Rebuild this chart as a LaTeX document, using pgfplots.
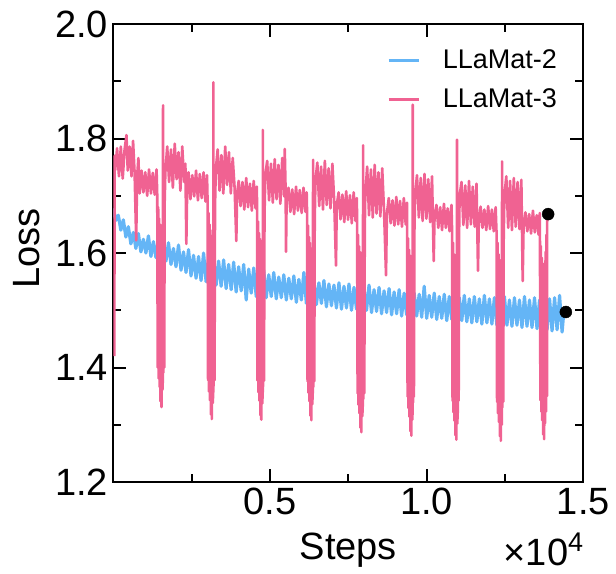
\documentclass[border=0pt]{standalone}
\usepackage{fontspec}
\setmainfont{Liberation Sans}
\usepackage{pgfplots}
\pgfplotsset{compat=1.18}
\definecolor{llblue}{RGB}{100,181,246}
\definecolor{llpink}{RGB}{240,98,146}
\begin{document}
\begin{tikzpicture}
\begin{axis}[
    name=ax,
    scale only axis,
    width=470bp, height=458bp,
    xmin=0, xmax=15000,
    ymin=1.2, ymax=2.0,
    axis line style={line width=2bp},
    tick style={line width=2bp, black},
    tick align=inside,
    major tick length=13bp, minor tick length=8bp,
    xtick={5000,10000,15000}, xticklabels={0.5,1.0,1.5},
    minor xtick={2500,7500,12500},
    ytick={1.2,1.4,1.6,1.8,2.0},
    minor ytick={1.3,1.5,1.7,1.9},
    scaled x ticks=false,
    /pgf/number format/assume math mode=true,
    yticklabel style={/pgf/number format/fixed, /pgf/number format/precision=1,
        /pgf/number format/fixed zerofill, xshift=-5bp},
    tick label style={font=\fontsize{38bp}{40bp}\selectfont, inner sep=0pt},
    xticklabel style={yshift=-6bp},
    xlabel={Steps}, ylabel={Loss},
    label style={font=\fontsize{38bp}{40bp}\selectfont, inner sep=0pt},
    xlabel style={at={(axis description cs:0.5,0)}, anchor=north, yshift=-51bp},
    ylabel style={at={(axis description cs:0,0.51)}, anchor=south, yshift=73bp},
    legend style={draw=none, fill=none, at={(rel axis cs:0.582,0.948)}, anchor=north west,
        font=\fontsize{27bp}{30bp}\selectfont, inner sep=0pt, row sep=14bp, column sep=23bp,
        nodes={inner sep=0pt, text height=20bp, text depth=5bp}},
    legend cell align=left,
    legend image code/.code={\draw[#1, line width=2.8bp] (0bp,0bp) -- (30bp,0bp);},
]
% end-point markers
\addplot[forget plot, only marks, mark=*, mark size=6bp, black] coordinates {(13875,1.668) (14440,1.497)};

% LLaMat-2
\addplot[llblue, line width=3.2bp, line join=round] coordinates {
(0,1.678) (80,1.657) (160,1.666) (240,1.640) (320,1.658) (400,1.628) (480,1.646) (560,1.616) (640,1.636) (720,1.608)
(800,1.634) (880,1.602) (960,1.624) (1040,1.600) (1120,1.630) (1200,1.594) (1280,1.620) (1360,1.592) (1440,1.624) (1520,1.588)
(1600,1.612) (1680,1.586) (1760,1.618) (1840,1.580) (1920,1.608) (2000,1.576) (2080,1.614) (2160,1.570) (2240,1.602) (2320,1.566)
(2400,1.606) (2480,1.560) (2560,1.596) (2640,1.556) (2720,1.594) (2800,1.552) (2880,1.600) (2960,1.550) (3040,1.590) (3120,1.548)
(3200,1.592) (3280,1.544) (3360,1.586) (3440,1.542) (3520,1.588) (3600,1.538) (3680,1.580) (3760,1.536) (3840,1.584) (3920,1.532)
(4000,1.576) (4080,1.534) (4160,1.580) (4240,1.518) (4320,1.572) (4400,1.530) (4480,1.574) (4560,1.524) (4640,1.568) (4720,1.526)
(4800,1.570) (4880,1.522) (4960,1.562) (5040,1.524) (5120,1.566) (5200,1.520) (5280,1.558) (5360,1.522) (5440,1.562) (5520,1.518)
(5600,1.556) (5680,1.520) (5760,1.560) (5840,1.514) (5920,1.554) (6000,1.518) (6080,1.566) (6160,1.512) (6240,1.556) (6320,1.512)
(6400,1.552) (6480,1.510) (6560,1.548) (6640,1.512) (6720,1.552) (6800,1.506) (6880,1.546) (6960,1.508) (7040,1.544) (7120,1.504)
(7200,1.548) (7280,1.502) (7360,1.542) (7440,1.504) (7520,1.546) (7600,1.500) (7680,1.540) (7760,1.502) (7840,1.542) (7920,1.498)
(8000,1.538) (8080,1.500) (8160,1.544) (8240,1.496) (8320,1.536) (8400,1.498) (8480,1.540) (8560,1.494) (8640,1.534) (8720,1.496)
(8800,1.538) (8880,1.492) (8960,1.532) (9040,1.494) (9120,1.536) (9200,1.490) (9280,1.530) (9360,1.492) (9440,1.532) (9520,1.488)
(9600,1.530) (9680,1.490) (9760,1.528) (9840,1.488) (9920,1.542) (10000,1.486) (10080,1.526) (10160,1.488) (10240,1.530) (10320,1.484)
(10400,1.524) (10480,1.486) (10560,1.528) (10640,1.482) (10720,1.524) (10800,1.484) (10880,1.526) (10960,1.480) (11040,1.522) (11120,1.482)
(11200,1.526) (11280,1.480) (11360,1.520) (11440,1.478) (11520,1.524) (11600,1.480) (11680,1.520) (11760,1.476) (11840,1.526) (11920,1.478)
(12000,1.520) (12080,1.476) (12160,1.522) (12240,1.474) (12320,1.518) (12400,1.476) (12480,1.524) (12560,1.474) (12640,1.518) (12720,1.472)
(12800,1.522) (12880,1.474) (12960,1.518) (13040,1.470) (13120,1.524) (13200,1.472) (13280,1.518) (13360,1.470) (13440,1.522) (13520,1.468)
(13600,1.518) (13680,1.470) (13760,1.524) (13840,1.466) (13920,1.520) (14000,1.464) (14080,1.522) (14160,1.466) (14240,1.526) (14320,1.462)
(14380,1.500)
};

% LLaMat-3
\addplot[llpink, line width=2.6bp, line join=round] coordinates {
(30,1.42) (45,1.77)
(60,1.745) (120,1.783) (180,1.734) (240,1.786) (300,1.730) (360,1.781) (420,1.806) (460,1.744) (520,1.786) (580,1.734)
(630,1.796) (680,1.739) (730,1.622) (760,1.734) (800,1.766)
(840,1.704) (900,1.744) (960,1.706) (1020,1.741) (1080,1.700) (1140,1.746) (1200,1.704) (1260,1.740) (1320,1.702) (1380,1.746)
(1402,1.700) (1417,1.400) (1432,1.680) (1447,1.381) (1462,1.660) (1477,1.366) (1492,1.650) (1507,1.341) (1522,1.630) (1537,1.331)
(1552,1.640) (1567,1.361) (1582,1.381) (1587,1.858) (1594,1.391) (1609,1.660) (1624,1.400) (1639,1.690)
(1660,1.740) (1720,1.786) (1780,1.724) (1840,1.781) (1900,1.714) (1960,1.791) (2020,1.729) (2080,1.776) (2140,1.709) (2200,1.786)
(2260,1.724) (2300,1.756) (2330,1.616) (2360,1.724)
(2400,1.741) (2460,1.694) (2520,1.736) (2580,1.699) (2640,1.744) (2700,1.692) (2760,1.738) (2820,1.696) (2880,1.741) (2940,1.690) (2990,1.736)
(3008,1.690) (3023,1.378) (3038,1.670) (3053,1.358) (3068,1.650) (3083,1.343) (3098,1.640) (3113,1.318) (3128,1.620) (3143,1.310)
(3158,1.630) (3173,1.338) (3188,1.358) (3193,1.898) (3200,1.368) (3215,1.650) (3230,1.378) (3245,1.680)
(3270,1.746) (3330,1.781) (3390,1.709) (3450,1.771) (3510,1.704) (3570,1.786) (3630,1.719) (3690,1.776) (3750,1.704) (3810,1.766)
(3870,1.714) (3925,1.621) (3950,1.704)
(4000,1.726) (4060,1.682) (4120,1.724) (4180,1.676) (4240,1.731) (4300,1.680) (4360,1.721) (4420,1.674) (4480,1.726) (4540,1.678) (4580,1.716)
(4587,1.675) (4602,1.377) (4617,1.655) (4632,1.357) (4647,1.635) (4662,1.342) (4677,1.625) (4692,1.317) (4707,1.605) (4722,1.309)
(4737,1.615) (4752,1.337) (4767,1.357) (4772,1.815) (4779,1.367) (4794,1.635) (4809,1.377) (4824,1.665)
(4850,1.736) (4910,1.761) (4970,1.692) (5030,1.756) (5090,1.688) (5150,1.764) (5210,1.694) (5270,1.754) (5330,1.686) (5390,1.766)
(5450,1.699) (5470,1.782) (5500,1.704) (5511,1.602) (5530,1.694)
(5590,1.714) (5650,1.672) (5710,1.711) (5770,1.668) (5830,1.716) (5890,1.674) (5950,1.710) (6010,1.670) (6070,1.714) (6130,1.672) (6170,1.706)
(6183,1.668) (6198,1.376) (6213,1.648) (6228,1.356) (6243,1.628) (6258,1.341) (6273,1.618) (6288,1.316) (6303,1.598) (6318,1.308)
(6333,1.608) (6348,1.336) (6363,1.356) (6375,1.763) (6382,1.366) (6397,1.628) (6412,1.376) (6427,1.658)
(6450,1.726) (6510,1.758) (6570,1.682) (6630,1.751) (6690,1.676) (6750,1.761) (6810,1.684) (6870,1.748) (6930,1.678) (6990,1.756)
(7050,1.689) (7106,1.578) (7130,1.684)
(7190,1.706) (7250,1.659) (7310,1.702) (7370,1.654) (7430,1.708) (7490,1.658) (7550,1.701) (7610,1.652) (7670,1.706) (7730,1.656) (7770,1.696)
(7780,1.652) (7795,1.355) (7810,1.632) (7825,1.335) (7840,1.612) (7855,1.320) (7870,1.602) (7885,1.295) (7900,1.582) (7915,1.287)
(7930,1.592) (7945,1.315) (7960,1.335) (7972,1.788) (7979,1.345) (7994,1.612) (8009,1.355) (8024,1.642)
(8040,1.700) (8100,1.751) (8160,1.666) (8220,1.746) (8280,1.662) (8340,1.754) (8400,1.669) (8460,1.741) (8520,1.664) (8580,1.748)
(8640,1.672) (8702,1.561) (8730,1.669)
(8790,1.696) (8850,1.652) (8910,1.692) (8970,1.648) (9030,1.698) (9090,1.650) (9150,1.691) (9210,1.646) (9270,1.696) (9330,1.650) (9370,1.688)
(9375,1.646) (9390,1.349) (9405,1.626) (9420,1.329) (9435,1.606) (9450,1.314) (9465,1.596) (9480,1.289) (9495,1.576) (9510,1.281)
(9525,1.586) (9540,1.309) (9552,1.329) (9556,1.859) (9562,1.339) (9577,1.606) (9592,1.349) (9607,1.636)
(9630,1.700) (9690,1.736) (9750,1.662) (9810,1.731) (9870,1.656) (9930,1.738) (9990,1.660) (10050,1.729) (10110,1.654) (10170,1.734)
(10224,1.586) (10250,1.664)
(10310,1.684) (10370,1.644) (10430,1.680) (10490,1.640) (10550,1.686) (10610,1.644) (10670,1.678) (10730,1.638) (10790,1.684)
(10810,1.638) (10825,1.342) (10840,1.618) (10855,1.322) (10870,1.598) (10885,1.307) (10900,1.588) (10915,1.282) (10930,1.568) (10945,1.274)
(10960,1.578) (10968,1.798) (10975,1.302) (10990,1.322) (11005,1.608) (11020,1.342) (11035,1.638)
(11050,1.700) (11110,1.724) (11170,1.649) (11230,1.718) (11290,1.644) (11350,1.726) (11410,1.650) (11470,1.716) (11530,1.646) (11590,1.721)
(11637,1.569) (11660,1.649)
(11720,1.681) (11780,1.644) (11840,1.676) (11900,1.640) (11960,1.682) (12020,1.642) (12080,1.676) (12140,1.638) (12200,1.680) (12225,1.640)
(12230,1.638) (12245,1.340) (12260,1.618) (12275,1.320) (12290,1.598) (12305,1.305) (12320,1.588) (12335,1.280) (12350,1.568) (12365,1.272)
(12380,1.578) (12395,1.300) (12400,1.320) (12405,1.760) (12412,1.330) (12427,1.598) (12442,1.340) (12457,1.628)
(12480,1.700) (12540,1.734) (12600,1.644) (12660,1.726) (12720,1.640) (12780,1.731) (12840,1.646) (12900,1.724) (12960,1.642) (13020,1.728)
(13063,1.551) (13090,1.644)
(13150,1.671) (13210,1.638) (13270,1.668) (13330,1.634) (13390,1.674) (13450,1.636) (13510,1.666) (13570,1.632) (13610,1.670)
(13613,1.632) (13628,1.343) (13643,1.612) (13658,1.323) (13673,1.592) (13688,1.308) (13703,1.582) (13718,1.283) (13733,1.562) (13748,1.275)
(13763,1.572) (13778,1.303) (13793,1.602) (13808,1.323) (13823,1.632) (13838,1.350) (13845,1.660)
};
\legend{LLaMat-2, LLaMat-3}
\end{axis}
\node[anchor=base east, inner sep=0pt, font=\fontsize{38bp}{40bp}\selectfont]
    at ([yshift=-83bp]ax.south east) {×10\raisebox{14bp}{\fontsize{27bp}{27bp}\selectfont 4}};
\pgfresetboundingbox
\path[use as bounding box] ([xshift=-113.3bp,yshift=-91bp]ax.south west) rectangle ([xshift=32.6bp,yshift=24bp]ax.north east);
\end{tikzpicture}
\end{document}
